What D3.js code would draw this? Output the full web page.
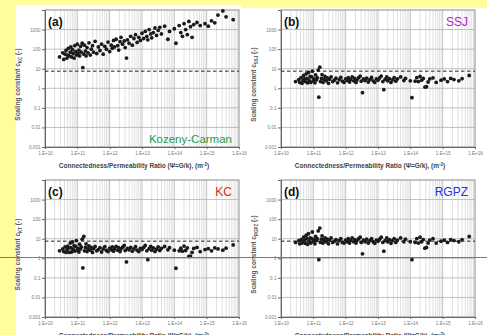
<!DOCTYPE html>
<html>
<head>
<meta charset="utf-8">
<script src="https://cdn.jsdelivr.net/npm/d3@7"></script>
<style>
  body { margin: 0; background: #fffd9c; }
  svg { display: block; font-family: "Liberation Sans", Arial, sans-serif; }
</style>
</head>
<body>
<svg id="chart" width="487" height="335"></svg>
<script>
// log10 of connectedness/permeability ratio, one entry per sample
const ratioExp = [
  10.45, 10.55, 10.58, 10.62, 10.65, 10.68, 10.70, 10.72, 10.75, 10.78,
  10.80, 10.82, 10.85, 10.87, 10.90, 10.92, 10.95, 10.97, 11.00, 11.02,
  11.05, 11.07, 11.10, 11.12, 11.15, 11.17, 11.20, 11.22, 11.25, 11.27,
  11.30, 11.33, 11.36, 11.40, 11.43, 11.47, 11.50, 11.55, 11.60, 11.65,
  11.70, 11.75, 11.80, 11.85, 11.90, 11.95, 12.00, 12.05, 12.08, 12.12,
  12.15, 12.20, 12.25, 12.28, 12.32, 12.35, 12.40, 12.45, 12.48, 12.52,
  12.55, 12.60, 12.65, 12.70, 12.75, 12.80, 12.85, 12.90, 12.95, 13.00,
  13.05, 13.10, 13.15, 13.18, 13.22, 13.27, 13.30, 13.35, 13.40, 13.45,
  13.50, 13.55, 13.60, 13.70, 13.80, 13.85, 14.00, 14.05, 14.15, 14.20,
  14.25, 14.30, 14.35, 14.40, 14.45, 14.50, 14.55, 14.60, 14.70, 14.80,
  14.95, 15.05, 15.15, 15.25, 15.35, 15.50, 15.60, 15.82
];

const cKozeny = [
  40, 65, 30, 55, 85, 35, 50, 110, 45, 70,
  130, 40, 95, 60, 35, 150, 75, 50, 180, 60,
  90, 45, 140, 70, 200, 11.5, 55, 160, 80, 45,
  120, 65, 210, 50, 100, 150, 70, 250, 60, 130,
  85, 180, 55, 140, 100, 230, 75, 160, 110, 280,
  130, 320, 150, 90, 240, 400, 180, 260, 120, 35,
  300, 200, 450, 160, 350, 550, 220, 400, 280, 650,
  350, 800, 450, 300, 1000, 600, 380, 700, 1200, 500,
  900, 1300, 600, 1500, 320, 800, 1100, 200, 1600, 700,
  450, 2000, 1000, 550, 2600, 1400, 400, 1800, 2300, 1600,
  2000, 1500, 2800, 2200, 5500, 9000, 4500, 3200
];

const cSSJ = [
  2.2, 2.8, 2.0, 3.5, 1.8, 2.5, 4.5, 3.0, 2.2, 5.5,
  3.2, 1.9, 6.5, 2.6, 4.0, 2.0, 3.8, 7.5, 2.4, 3.0,
  1.9, 4.8, 2.7, 3.5, 8.5, 0.35, 12, 2.2, 3.2, 5.0,
  2.0, 2.8, 4.0, 2.4, 3.4, 1.8, 2.9, 3.8, 2.2, 2.6,
  3.3, 1.9, 2.8, 3.6, 2.3, 2.0, 3.0, 2.5, 3.5, 2.1,
  2.8, 3.8, 2.4, 3.2, 2.0, 2.7, 3.5, 4.2, 2.3, 0.6,
  3.0, 2.5, 3.3, 2.1, 2.8, 3.6, 2.4, 2.0, 3.0, 2.6,
  3.4, 4.2, 2.2, 0.85, 2.9, 3.8, 2.4, 3.1, 2.0, 2.7,
  3.5, 2.3, 3.0, 3.8, 2.5, 3.2, 2.4, 0.33, 2.3, 3.5,
  2.2, 4.0, 2.6, 3.2, 1.15, 1.2, 2.1, 3.0, 3.4, 2.0,
  2.6, 3.0, 2.2, 3.2, 2.8, 2.4, 3.1, 4.5
];

const cKC = [
  2.4, 3.0, 2.2, 3.8, 2.0, 2.7, 4.2, 3.3, 2.0, 6.0,
  3.5, 2.1, 6.8, 2.9, 4.4, 2.3, 4.0, 8.0, 2.6, 3.2,
  2.1, 5.2, 3.0, 3.8, 9.5, 0.32, 13, 2.4, 3.6, 5.5,
  2.2, 3.0, 4.3, 2.6, 3.6, 2.0, 3.1, 4.0, 2.4, 2.8,
  3.5, 2.1, 3.0, 3.9, 2.5, 2.2, 3.3, 2.7, 3.8, 2.3,
  3.0, 4.1, 2.6, 3.5, 2.2, 3.0, 3.7, 4.5, 2.5, 0.65,
  3.2, 2.7, 3.6, 2.3, 3.0, 3.9, 2.6, 2.2, 3.2, 2.8,
  3.6, 4.5, 2.4, 0.85, 3.1, 4.1, 2.6, 3.4, 2.2, 2.9,
  3.8, 2.5, 3.2, 4.0, 2.7, 3.5, 2.6, 0.31, 2.4, 3.3,
  2.3, 4.2, 2.5, 3.4, 1.25, 1.3, 2.0, 3.2, 3.6, 2.2,
  2.8, 3.1, 2.4, 3.4, 3.0, 2.6, 3.3, 4.8
];

const cRGPZ = [
  6.5, 8, 5.5, 9, 6, 7, 12, 8.5, 5.8, 15,
  10, 5.2, 18, 7.5, 11, 6, 10, 22, 7, 9,
  5.5, 13, 8, 10, 25, 0.85, 35, 6.5, 9.5, 14,
  6, 8, 11, 7, 9.5, 5.5, 8.5, 11, 6.5, 7.5,
  9, 5.5, 8, 10, 6.5, 6, 8.5, 7, 10, 6,
  8, 11, 7, 9, 6, 8, 10, 12, 6.5, 1.7,
  8.5, 7, 9.5, 6, 8, 10, 7, 5.8, 8.5, 7.5,
  9.5, 12, 6.5, 2.3, 8, 11, 7, 9, 5.8, 8,
  10, 6.5, 8.5, 11, 7, 9.5, 7, 0.85, 6.5, 10,
  6, 12, 7, 9, 3.3, 3.6, 6, 8.5, 10, 6,
  7.5, 8.5, 6.5, 9, 8, 7, 9, 13
];

const yTicks = [0.001, 0.01, 0.1, 1, 10, 100, 1000];
const yTickLabels = ['0.001', '0.01', '0.1', '1', '10', '100', '1000'];
const xTickExp = [10, 11, 12, 13, 14, 15, 16];
const xTickLabels = ['1.E+10', '1.E+11', '1.E+12', '1.E+13', '1.E+14', '1.E+15', '1.E+16'];
const threshold = 7.5;

const panels = [
  { tag: '(a)', name: 'Kozeny-Carman', color: '#1f9a4c', sub: 'KC', values: cKozeny,
    left: 45, right: 239, top: 10, bottom: 147, nameAtBottom: true },
  { tag: '(b)', name: 'SSJ', color: '#b026c4', sub: 'SSJ', values: cSSJ,
    left: 281, right: 475, top: 10, bottom: 147, nameAtBottom: false },
  { tag: '(c)', name: 'KC', color: '#e0251f', sub: 'KT', values: cKC,
    left: 45, right: 239, top: 180, bottom: 317, nameAtBottom: false },
  { tag: '(d)', name: 'RGPZ', color: '#2531e6', sub: 'RGPZ', values: cRGPZ,
    left: 281, right: 475, top: 180, bottom: 317, nameAtBottom: false }
];

const svg = d3.select('#chart');

// white sheet over the yellow page
svg.append('rect').attr('x', 16).attr('y', 5).attr('width', 471).attr('height', 330).attr('fill', '#fff');
svg.append('rect').attr('x', 242).attr('y', 5).attr('width', 245).attr('height', 3).attr('fill', '#fffd9c');

panels.forEach(p => {
  const x = d3.scaleLog().domain([1e10, 1e16]).range([p.left, p.right]);
  const y = d3.scaleLog().domain([1e-3, 1e4]).range([p.bottom, p.top]);
  const g = svg.append('g');

  // minor vertical grid
  const minor = [];
  for (let e = 10; e < 16; e++) {
    for (let m = 2; m <= 9; m++) minor.push(m * Math.pow(10, e));
  }
  g.selectAll('.minor').data(minor).enter().append('line')
    .attr('x1', d => x(d)).attr('x2', d => x(d))
    .attr('y1', p.top).attr('y2', p.bottom)
    .attr('stroke', '#d2d2d2').attr('stroke-width', 0.7);

  g.selectAll('.major').data(xTickExp).enter().append('line')
    .attr('x1', d => x(Math.pow(10, d))).attr('x2', d => x(Math.pow(10, d)))
    .attr('y1', p.top).attr('y2', p.bottom)
    .attr('stroke', '#b5b5b5').attr('stroke-width', 0.8);

  g.selectAll('.hgrid').data(yTicks.concat([10000])).enter().append('line')
    .attr('x1', p.left).attr('x2', p.right)
    .attr('y1', d => y(d)).attr('y2', d => y(d))
    .attr('stroke', '#b0b0b0').attr('stroke-width', 0.8);

  // frame
  g.append('rect')
    .attr('x', p.left).attr('y', p.top)
    .attr('width', p.right - p.left).attr('height', p.bottom - p.top)
    .attr('fill', 'none').attr('stroke', '#a8a8a8').attr('stroke-width', 1);

  // axes
  g.append('g')
    .attr('transform', `translate(${p.left},0)`)
    .call(d3.axisLeft(y).tickValues(yTicks).tickFormat((d, i) => yTickLabels[i]).tickSize(3).tickPadding(1.5))
    .call(a => a.select('.domain').attr('stroke', '#666'))
    .call(a => a.selectAll('line').attr('stroke', '#666'))
    .call(a => a.selectAll('text').attr('font-size', 4.6).attr('fill', '#777').attr('font-family', 'Liberation Sans, Arial'));

  g.append('g')
    .attr('transform', `translate(0,${p.bottom})`)
    .call(d3.axisBottom(x).tickValues(xTickExp.map(e => Math.pow(10, e)))
      .tickFormat((d, i) => xTickLabels[i]).tickSize(2).tickPadding(3))
    .call(a => a.select('.domain').attr('stroke', '#666'))
    .call(a => a.selectAll('line').attr('stroke', '#666'))
    .call(a => a.selectAll('text').attr('font-size', 4.6).attr('fill', '#777').attr('font-family', 'Liberation Sans, Arial'));

  // threshold line
  g.append('line')
    .attr('x1', p.left).attr('x2', p.right)
    .attr('y1', y(threshold)).attr('y2', y(threshold))
    .attr('stroke', '#222').attr('stroke-width', 1).attr('stroke-dasharray', '3.5,2.5');

  // samples
  g.selectAll('.pt').data(p.values).enter().append('circle')
    .attr('cx', (d, i) => x(Math.pow(10, ratioExp[i])))
    .attr('cy', d => y(d))
    .attr('r', 1.9)
    .attr('fill', '#1a1a1a');

  // labels
  g.append('text').attr('x', p.left + 3).attr('y', p.top + 16)
    .attr('font-size', 12).attr('font-weight', 'bold').attr('fill', '#111').text(p.tag);

  g.append('text')
    .attr('x', p.right - 7)
    .attr('y', p.nameAtBottom ? p.bottom - 4 : p.top + 16)
    .attr('text-anchor', 'end').attr('font-size', p.nameAtBottom ? 11.5 : 12)
    .attr('fill', p.color).text(p.name);

  const yl = g.append('text')
    .attr('transform', `translate(${p.left - 25},${(p.top + p.bottom) / 2 + 6}) rotate(-90)`)
    .attr('text-anchor', 'middle').attr('font-size', 6.5).attr('font-weight', 'bold').attr('fill', '#555');
  yl.append('tspan').text('Scaling constant c');
  yl.append('tspan').attr('font-size', 4.5).attr('dy', 1.5).text(p.sub);
  yl.append('tspan').attr('dy', -1.5).text(' (-)');

  const xl = g.append('text')
    .attr('x', (p.left + p.right) / 2 - 8).attr('y', p.bottom + 21)
    .attr('text-anchor', 'middle').attr('font-size', 6.5).attr('font-weight', 'bold').attr('fill', '#444');
  xl.append('tspan').text('Connectedness/Permeability Ratio (Ψ=G/k), (m');
  xl.append('tspan').attr('font-size', 4.5).attr('dy', -2.5).text('-2');
  xl.append('tspan').attr('dy', 2.5).text(')');
});

// stray rule across the lower half of the page
svg.append('line').attr('x1', 0).attr('x2', 487).attr('y1', 257.5).attr('y2', 257.5)
  .attr('stroke', '#7a7a7a').attr('stroke-width', 1);
</script>
</body>
</html>
